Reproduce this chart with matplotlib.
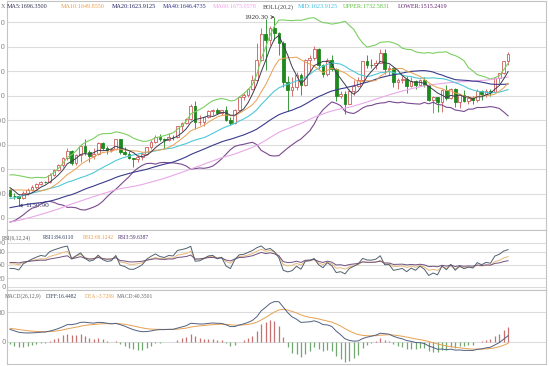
import numpy as np
import pandas as pd
import matplotlib
matplotlib.use("Agg")
import matplotlib.pyplot as plt

# weekly closes before the visible window, only used to warm up MA / BOLL / RSI / MACD
pre_close = [940, 930, 952, 922, 898, 882, 869, 907, 886, 915, 929, 958, 978, 962, 937,
             935, 940, 930, 914, 937, 952, 953, 956, 946, 944, 955, 996, 1007, 1012, 993,
             1004, 1049, 1052, 1056, 1040, 1095, 1118, 1146, 1176, 1162, 1118, 1110, 1104,
             1096, 1138, 1130, 1092, 1083, 1050, 1093, 1118, 1117, 1132, 1103, 1107, 1107,
             1124, 1161, 1136, 1153, 1179, 1206, 1229, 1177, 1213, 1218, 1227, 1257, 1256,
             1208, 1210]

# visible weekly candles
open_ = [1214, 1190, 1188, 1181, 1204, 1215, 1227, 1237, 1247, 1245,
         1276, 1296, 1317, 1346, 1372, 1326, 1357, 1394, 1368, 1353,
         1362, 1406, 1385, 1376, 1380, 1421, 1369, 1361, 1343, 1341,
         1349, 1360, 1388, 1409, 1429, 1421, 1418, 1430, 1429, 1474,
         1486, 1504, 1556, 1490, 1493, 1511, 1536, 1542, 1529, 1539,
         1502, 1486, 1542, 1594, 1601, 1628, 1663, 1744, 1852, 1828,
         1877, 1856, 1813, 1656, 1624, 1636, 1683, 1642, 1745, 1754,
         1788, 1724, 1686, 1746, 1710, 1598, 1607, 1565, 1617, 1640,
         1665, 1739, 1725, 1724, 1734, 1775, 1710, 1711, 1656, 1662,
         1668, 1640, 1659, 1642, 1664, 1643, 1580, 1592, 1572, 1622,
         1590, 1627, 1572, 1604, 1579, 1590, 1583, 1618, 1605, 1620,
         1616, 1671, 1691, 1740]
high = [1220, 1202, 1192, 1211, 1221, 1233, 1242, 1253, 1252, 1283,
        1300, 1320, 1349, 1387, 1376, 1360, 1399, 1424, 1376, 1384,
        1410, 1409, 1392, 1385, 1424, 1423, 1388, 1372, 1347, 1359,
        1370, 1390, 1419, 1437, 1445, 1427, 1448, 1440, 1476, 1490,
        1509, 1566, 1577, 1520, 1513, 1539, 1545, 1550, 1542, 1557,
        1512, 1545, 1597, 1610, 1632, 1682, 1815, 1877, 1912, 1885,
        1920.3, 1859, 1822, 1678, 1676, 1695, 1690, 1748, 1764, 1802,
        1795, 1729, 1754, 1764, 1714, 1620, 1617, 1627, 1662, 1675,
        1740, 1764, 1749, 1745, 1790, 1792, 1725, 1716, 1672, 1680,
        1680, 1677, 1663, 1668, 1675, 1647, 1597, 1595, 1626, 1641,
        1632, 1629, 1607, 1624, 1597, 1597, 1628, 1623, 1625, 1626,
        1675, 1693, 1740, 1777]
low = [1186, 1176, 1150.9, 1178, 1192, 1212, 1219, 1236, 1242, 1242,
       1272, 1290, 1309, 1337, 1315, 1318, 1330, 1357, 1330, 1340,
       1357, 1378, 1361, 1371, 1378, 1363, 1358, 1342, 1309, 1330,
       1338, 1357, 1382, 1405, 1413, 1380, 1415, 1418, 1425, 1455,
       1484, 1500, 1462, 1480, 1477, 1508, 1520, 1525, 1520, 1496,
       1478, 1482, 1540, 1580, 1595, 1623, 1660, 1740, 1705, 1807,
       1826, 1764, 1636, 1535, 1597, 1623, 1603, 1640, 1696, 1745,
       1707, 1676, 1680, 1701, 1576, 1588, 1523, 1565, 1603, 1636,
       1655, 1713, 1711, 1707, 1731, 1688, 1683, 1636, 1627, 1650,
       1612, 1635, 1627, 1640, 1633, 1577, 1527, 1532, 1532, 1580,
       1587, 1555, 1550, 1575, 1567, 1566, 1574, 1583, 1593, 1598,
       1612, 1651, 1686, 1726]
close = [1189, 1188, 1181, 1204, 1215, 1227, 1237, 1247, 1245, 1276,
         1296, 1317, 1346, 1372, 1326, 1357, 1394, 1368, 1353, 1362,
         1406, 1385, 1376, 1380, 1421, 1369, 1361, 1343, 1341, 1349,
         1360, 1388, 1409, 1429, 1421, 1418, 1430, 1429, 1474, 1486,
         1504, 1556, 1490, 1493, 1511, 1536, 1542, 1529, 1539, 1502,
         1486, 1542, 1594, 1601, 1628, 1663, 1744, 1852, 1828, 1877,
         1856, 1813, 1656, 1624, 1636, 1683, 1642, 1745, 1754, 1788,
         1724, 1686, 1746, 1710, 1598, 1607, 1565, 1617, 1640, 1665,
         1739, 1725, 1724, 1734, 1775, 1710, 1711, 1656, 1662, 1668,
         1640, 1659, 1642, 1664, 1643, 1580, 1592, 1572, 1622, 1590,
         1627, 1572, 1604, 1579, 1590, 1583, 1618, 1605, 1620, 1616,
         1671, 1691, 1740, 1771]

main_header = [("X", "#707070"), ("MA5:1696.3500", "#303050"), ("MA10:1649.8550", "#e8a050"),
               ("MA20:1623.9125", "#202060"), ("MA40:1646.4735", "#303090"),
               ("MA60:1675.0578", "#f0a0e8"), ("BOLL(20,2)", "#404040"),
               ("MID:1623.9125", "#40c0e0"), ("UPPER:1732.5831", "#60c040"),
               ("LOWER:1515.2419", "#602070")]
rsi_header = [("RSI(6,12,24)", "#606060"), ("RSI1:84.6110", "#304060"),
              ("RSI2:69.1242", "#e8a050"), ("RSI3:59.6387", "#503070")]
macd_header = [("MACD(26,12,9)", "#606060"), ("DIFF:16.4482", "#304060"),
               ("DEA:-3.7269", "#e8a050"), ("MACD:40.3501", "#606060")]

N = len(close)
x = np.arange(N)
o, h, l, c = map(np.array, (open_, high, low, close))

# indicators, computed the way the charting software does
s = pd.Series(pre_close + close, dtype=float)
def ma(n):
    return s.rolling(n).mean().iloc[-N:].to_numpy()
ma5, ma10, ma20, ma40, ma60 = ma(5), ma(10), ma(20), ma(40), ma(60)
sd = s.rolling(20).std(ddof=0).iloc[-N:].to_numpy()
upper, lower = ma20 + 2 * sd, ma20 - 2 * sd

d = s.diff()
def rsi(n):
    up = d.clip(lower=0).ewm(alpha=1 / n, adjust=False).mean()
    dn = d.abs().ewm(alpha=1 / n, adjust=False).mean()
    return (100 * up / dn).iloc[-N:].to_numpy()
rsi1, rsi2, rsi3 = rsi(6), rsi(12), rsi(24)

dif = s.ewm(span=12, adjust=False).mean() - s.ewm(span=26, adjust=False).mean()
dea = dif.ewm(span=9, adjust=False).mean()
hist = (2 * (dif - dea)).iloc[-N:].to_numpy()
dif, dea = dif.iloc[-N:].to_numpy(), dea.iloc[-N:].to_numpy()

# figure
W, H = 550, 366
fig = plt.figure(figsize=(W / 100, H / 100), dpi=100)

def box(top, bottom):
    return [7 / W, 1 - bottom / H, 539 / W, (bottom - top) / H]

ax = fig.add_axes(box(1, 230))
ax_rsi = fig.add_axes(box(230, 290))
ax_macd = fig.add_axes(box(290, 364))

for a in (ax, ax_rsi, ax_macd):
    a.set_xlim(-0.68, 121.6)
    a.tick_params(axis="x", bottom=False, labelbottom=False)
    a.tick_params(axis="y", length=0, pad=1, labelsize=5, labelcolor="#888888")
    a.grid(axis="y", color="#dcdcdc", lw=0.8)
    a.set_axisbelow(True)
    for sp in a.spines.values():
        sp.set_color("#c4c4c4")
        sp.set_linewidth(0.8)

# candles
RED, GREEN = "#d05a5a", "#1e8a1e"
up = c >= o
ax.vlines(x[up], l[up], h[up], color=RED, lw=0.6, zorder=2)
ax.vlines(x[~up], l[~up], h[~up], color=GREEN, lw=0.6, zorder=2)
body = np.maximum(np.abs(c - o), 1.5)
ax.bar(x[up], body[up], bottom=o[up], width=0.62, facecolor="white",
       edgecolor=RED, lw=0.6, zorder=3)
ax.bar(x[~up], body[~up], bottom=c[~up], width=0.62, color=GREEN,
       edgecolor=GREEN, lw=0.6, zorder=3)

ax.plot(x, upper, color="#7ccf62", lw=0.8, zorder=4)
ax.plot(x, lower, color="#7a4a90", lw=0.8, zorder=4)
ax.plot(x, ma60, color="#e8a8e8", lw=0.8, zorder=4)
ax.plot(x, ma40, color="#3a3a8c", lw=0.8, zorder=4)
ax.plot(x, ma20, color="#50c8d8", lw=0.8, zorder=4)
ax.plot(x, ma10, color="#e8a050", lw=0.7, zorder=4)
ax.plot(x, ma5, color="#3c3c50", lw=0.7, zorder=4)

ax.set_ylim(1051, 1986)
ax.set_yticks(range(1100, 2000, 100))

ax.annotate("1920.30", xy=(60, 1920.3), xytext=(-6, 0), textcoords="offset pixels",
            ha="right", va="center", fontsize=5.3, color="#333333", family="Liberation Serif",
            arrowprops=dict(arrowstyle="->", color="#333333", lw=0.5, shrinkA=0, shrinkB=0))
ax.annotate("1150.90", xy=(2, 1150.9), xytext=(7, 0), textcoords="offset pixels",
            ha="left", va="center", fontsize=5.3, color="#303060", family="Liberation Serif",
            arrowprops=dict(arrowstyle="->", color="#303060", lw=0.5, shrinkA=0, shrinkB=0))

# RSI
ax_rsi.plot(x, rsi2, color="#e8b878", lw=0.7)
ax_rsi.plot(x, rsi3, color="#705080", lw=0.7)
ax_rsi.plot(x, rsi1, color="#506070", lw=0.7)
ax_rsi.set_ylim(-7, 129.5)
ax_rsi.set_yticks([0, 20, 50, 80, 100])

# MACD
ax_macd.vlines(x[hist >= 0], 0, hist[hist >= 0], color="#c87070", lw=0.9)
ax_macd.vlines(x[hist < 0], 0, hist[hist < 0], color="#70a870", lw=0.9)
ax_macd.plot(x, dea, color="#e8a050", lw=0.7)
ax_macd.plot(x, dif, color="#506080", lw=0.7)
ax_macd.set_ylim(-59, 139)
ax_macd.set_yticks([0, 80])

# headers
def header(items, xs, y, size):
    for (txt, col), px in zip(items, xs):
        fig.text(px / W, 1 - y / H, txt, fontsize=size, color=col,
                 family="Liberation Serif", va="center", ha="left")

header(main_header, [1, 7, 61, 112, 163, 213, 263, 298, 343, 398], 7, 4.4)
header(rsi_header, [2, 43, 83, 118], 238, 4.1)
header(macd_header, [5, 46, 85, 117], 296, 4.0)

fig.savefig("out.png", dpi=100)
